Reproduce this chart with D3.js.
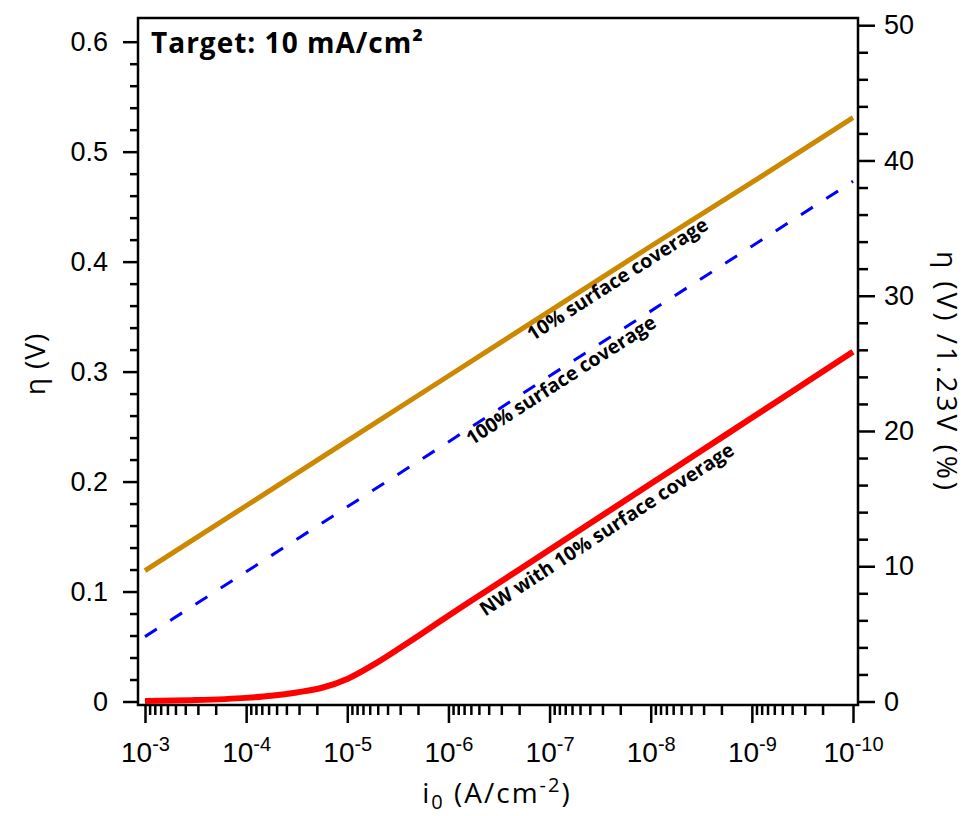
<!DOCTYPE html>
<html>
<head>
<meta charset="utf-8">
<script src="https://cdn.jsdelivr.net/npm/d3@7"></script>
<style>
  body { margin: 0; background: #fff; }
  svg { display: block; font-family: "Open Sans", sans-serif; }
</style>
</head>
<body>
<svg width="968" height="816"></svg>
<script>
// exchange current density values (A/cm2), left to right on the reversed log axis
const i0Lines = [1e-3, 1e-4, 1e-5, 1e-6, 1e-7, 1e-8, 1e-9, 1e-10];
const etaCov10 = [0.119, 0.178, 0.237, 0.296, 0.355, 0.414, 0.472, 0.531];   // 10% surface coverage
const etaCov100 = [0.059, 0.118, 0.177, 0.236, 0.296, 0.355, 0.414, 0.473];  // 100% surface coverage

// NW with 10% surface coverage
const i0Nw = [1e-3, 3.16e-4, 1e-4, 5.62e-5, 3.16e-5, 1.78e-5, 1e-5, 5.62e-6, 3.16e-6, 1.78e-6,
              1e-6, 3.16e-7, 1e-7, 3.16e-8, 1e-8, 3.16e-9, 1e-9, 3.16e-10, 1e-10];
const etaNw = [0.0005, 0.0013, 0.0033, 0.0052, 0.0082, 0.0125, 0.0205, 0.033, 0.0475, 0.0625,
               0.078, 0.108, 0.138, 0.168, 0.198, 0.228, 0.258, 0.288, 0.318];

const yTicks = [0, 0.1, 0.2, 0.3, 0.4, 0.5, 0.6];
const yRightTicks = [0, 10, 20, 30, 40, 50];
const xMajorTicks = [1e-3, 1e-4, 1e-5, 1e-6, 1e-7, 1e-8, 1e-9, 1e-10];

const svg = d3.select("svg");

// plot frame
const frameLeft = 138, frameRight = 858, frameTop = 18, frameBottom = 705;

const x = d3.scaleLog().domain([1e-3, 1e-10]).range([145, 853]);
const y = d3.scaleLinear().domain([0, 0.6]).range([701.5, 41.7]);
// right axis: eta / 1.23 V in percent
const yR = d3.scaleLinear().domain([0, 50]).range([y(0), y(0.615)]);

const tickStroke = 2.5;

function styleAxis(g) {
    g.select(".domain").remove();
    g.selectAll(".tick line").attr("stroke", "#000").attr("stroke-width", tickStroke);
    g.selectAll("text").attr("fill", "#000").style("font-size", "27px");
}

// left axis
const yMinor = d3.range(0, 0.601, 0.02).filter(v => Math.abs(v * 10 - Math.round(v * 10)) > 1e-6);
svg.append("g").attr("transform", `translate(${frameLeft},0)`)
    .call(d3.axisLeft(y).tickValues(yMinor).tickSize(8).tickFormat(""))
    .call(styleAxis);
svg.append("g").attr("transform", `translate(${frameLeft},0)`)
    .call(d3.axisLeft(y).tickValues(yTicks).tickSize(15).tickPadding(15)
        .tickFormat(d => d === 0 ? "0" : d3.format(".1f")(d)))
    .call(styleAxis);

// right axis
const yRMinor = d3.range(0, 50, 2).filter(v => v % 10 !== 0);
svg.append("g").attr("transform", `translate(${frameRight},0)`)
    .call(d3.axisRight(yR).tickValues(yRMinor).tickSize(10).tickFormat(""))
    .call(styleAxis);
svg.append("g").attr("transform", `translate(${frameRight},0)`)
    .call(d3.axisRight(yR).tickValues(yRightTicks).tickSize(17).tickPadding(9))
    .call(styleAxis);

// bottom axis (reversed log scale)
const xMinor = x.ticks().filter(v => !xMajorTicks.some(m => Math.abs(v / m - 1) < 1e-6));
svg.append("g").attr("transform", `translate(0,${frameBottom})`)
    .call(d3.axisBottom(x).tickValues(xMinor).tickSize(10).tickFormat(""))
    .call(styleAxis);
const xAxis = svg.append("g").attr("transform", `translate(0,${frameBottom})`)
    .call(d3.axisBottom(x).tickValues(xMajorTicks).tickSize(18).tickFormat(""))
    .call(styleAxis);
xAxis.selectAll(".tick text").each(function (d) {
    const t = d3.select(this).attr("y", 57).attr("dy", null).text("")
        .style("font-size", "28px");
    t.append("tspan").text("10");
    t.append("tspan").attr("dy", -11).style("font-size", "20px").text(Math.round(Math.log10(d)));
});

// frame box
svg.append("rect")
    .attr("x", frameLeft).attr("y", frameTop)
    .attr("width", frameRight - frameLeft).attr("height", frameBottom - frameTop)
    .attr("fill", "none").attr("stroke", "#000").attr("stroke-width", tickStroke);

// lines
const line = d3.line().x(d => x(d[0])).y(d => y(d[1]));
const curve = d3.line().x(d => x(d[0])).y(d => y(d[1])).curve(d3.curveMonotoneX);

svg.append("path")
    .attr("d", line(d3.zip(i0Lines, etaCov100)))
    .attr("fill", "none").attr("stroke", "#0000ff").attr("stroke-width", 3)
    .attr("stroke-dasharray", "14,16");

svg.append("path")
    .attr("d", line(d3.zip(i0Lines, etaCov10)))
    .attr("fill", "none").attr("stroke", "#cc8800").attr("stroke-width", 5);

svg.append("path")
    .attr("d", curve(d3.zip(i0Nw, etaNw)))
    .attr("fill", "none").attr("stroke", "#ff0000").attr("stroke-width", 6);

// labels along the lines
function angleOf(xs, ys, a, b) {
    const dx = x(xs[b]) - x(xs[a]);
    const dy = y(ys[b]) - y(ys[a]);
    return Math.atan2(dy, dx) * 180 / Math.PI;
}
function lineLabel(text, i0, eta, angle, offset) {
    svg.append("text")
        .attr("transform", `translate(${x(i0)},${y(eta)}) rotate(${angle})`)
        .attr("dy", offset)
        .style("font-size", "19.5px").style("font-weight", "bold")
        .text(text);
}
const ang10 = angleOf(i0Lines, etaCov10, 0, 7);
const ang100 = angleOf(i0Lines, etaCov100, 0, 7);
const angNw = angleOf(i0Nw, etaNw, 10, 18);
lineLabel("10% surface coverage", 1.79e-7, 0.119 + 3.747 * 0.0589, ang10, 16);
lineLabel("100% surface coverage", 7.18e-7, 0.059 + 3.144 * 0.0591, ang100, 16);
lineLabel("NW with 10% surface coverage", 5.6e-7, 0.093, angNw, 21);

// title
svg.append("text")
    .attr("x", 151).attr("y", 53)
    .style("font-size", "28px").style("font-weight", "bold")
    .style("letter-spacing", "1px")
    .text("Target: 10 mA/cm²");

// axis titles
svg.append("text")
    .attr("transform", "translate(45,364) rotate(-90)")
    .attr("text-anchor", "middle")
    .style("font-size", "28px").style("letter-spacing", "1px")
    .text("η (V)");

svg.append("text")
    .attr("transform", "translate(937,372) rotate(90)")
    .attr("text-anchor", "middle")
    .style("font-size", "28px").style("letter-spacing", "3px")
    .text("η (V) /1.23V (%)");

const xTitle = svg.append("text")
    .attr("x", 497).attr("y", 803)
    .attr("text-anchor", "middle")
    .style("font-size", "28px").style("letter-spacing", "2px");
xTitle.append("tspan").text("i");
xTitle.append("tspan").attr("dy", 6).style("font-size", "20px").text("0");
xTitle.append("tspan").attr("dy", -6).text(" (A/cm");
xTitle.append("tspan").attr("dy", -11).style("font-size", "20px").text("-2");
xTitle.append("tspan").attr("dy", 11).text(")");
</script>
</body>
</html>
